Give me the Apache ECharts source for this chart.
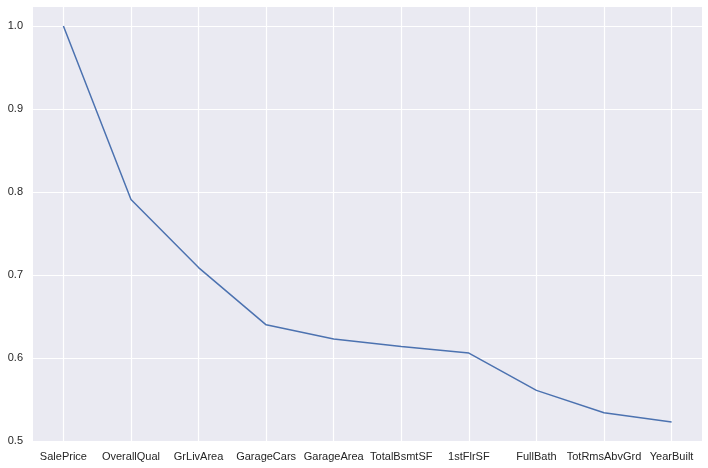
<!DOCTYPE html>
<html>
<head>
<meta charset="utf-8">
<script src="https://cdn.jsdelivr.net/npm/echarts@6/dist/echarts.min.js"></script>
<style>html,body{margin:0;padding:0;background:#fff}#c{width:708px;height:468px}</style>
</head>
<body>
<div id="c"></div>
<script>
const categories = ['SalePrice','OverallQual','GrLivArea','GarageCars','GarageArea','TotalBsmtSF','1stFlrSF','FullBath','TotRmsAbvGrd','YearBuilt'];
const values = [1.0, 0.791, 0.709, 0.640, 0.623, 0.614, 0.606, 0.561, 0.534, 0.523];
const yTicks = [0.5, 0.6, 0.7, 0.8, 0.9, 1.0];

const chart = echarts.init(document.getElementById('c'), null, {renderer: 'canvas'});
const idx = categories.map((_, i) => i);
const font = 'Liberation Sans, Arial, sans-serif';
chart.setOption({
  animation: false,
  grid: {left: 33, right: 6, top: 7, bottom: 27, show: true, backgroundColor: '#EAEAF2', borderWidth: 0},
  xAxis: {
    type: 'value', min: -0.45, max: categories.length - 1 + 0.45,
    axisLine: {show: false}, axisTick: {show: false, customValues: idx},
    axisLabel: {customValues: idx, formatter: v => categories[Math.round(v)], color: '#262626', fontSize: 11, fontFamily: font, margin: 10},
    splitLine: {show: true, lineStyle: {color: '#ffffff', width: 1.2}}
  },
  yAxis: {
    type: 'value', min: 0.5, max: 1.023,
    axisLine: {show: false}, axisTick: {show: false, customValues: yTicks},
    axisLabel: {customValues: yTicks, formatter: v => v.toFixed(1), color: '#262626', fontSize: 11, fontFamily: font, margin: 10},
    splitLine: {show: true, lineStyle: {color: '#ffffff', width: 1.2}}
  },
  series: [{
    type: 'line', data: values.map((v, i) => [idx[i], v]),
    showSymbol: false, symbol: 'none',
    lineStyle: {color: '#4C72B0', width: 1.5}
  }]
});
</script>
</body>
</html>
